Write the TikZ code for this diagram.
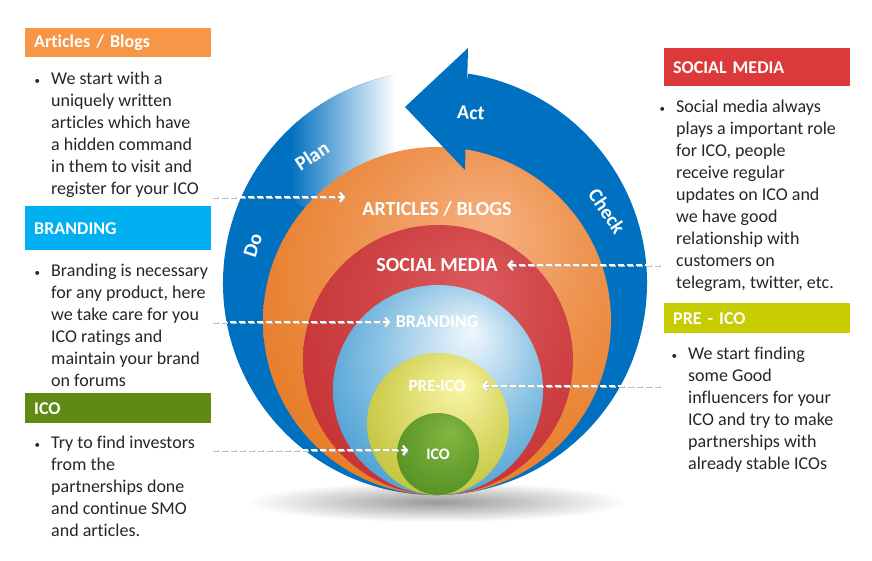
\documentclass[tikz,border=0pt]{standalone}
\usepackage{fontspec}
\setmainfont{Carlito}[Ligatures=NoCommon]
\usetikzlibrary{arrows.meta,calc,positioning}
\definecolor{ringblue}{HTML}{0070C0}
\definecolor{hdrorange}{HTML}{F79646}
\definecolor{hdrblue}{HTML}{00B0F0}
\definecolor{hdrgreen}{HTML}{5F8A14}
\definecolor{hdrred}{HTML}{DC3A3A}
\definecolor{hdryellow}{HTML}{C6CC00}
\definecolor{bodytext}{HTML}{262626}
\definecolor{orangein}{HTML}{F5B080}
\definecolor{orangeout}{HTML}{E36C0C}
\definecolor{redin}{HTML}{DC5A5C}
\definecolor{redout}{HTML}{BF282C}
\definecolor{bluein}{HTML}{F0F8FC}
\definecolor{blueout}{HTML}{1C88C9}
\definecolor{yellowin}{HTML}{FAF6A8}
\definecolor{yellowout}{HTML}{B3B61C}
\definecolor{greenin}{HTML}{84B842}
\definecolor{greenout}{HTML}{4A861E}
\colorlet{glowin}{white}
\colorlet{glowout}{black}
\pgfdeclareradialshading[glowin,glowout]{discglow}{\pgfpoint{8bp}{14bp}}{%
  color(0bp)=(glowin); color(18bp)=(glowin!55!glowout); color(42bp)=(glowout); color(50bp)=(glowout)}
\tikzset{discfill/.style 2 args={shading=discglow,
  /utils/exec={\colorlet{glowin}{#1}\colorlet{glowout}{#2}}}}
\newcommand{\bul}{\llap{{\fontsize{11}{11}\selectfont\textbullet}\hspace{11pt}}}
\begin{document}
\begin{tikzpicture}[x=1pt,y=1pt,
    hdr/.style={anchor=north west, minimum width=186pt, text width=168pt, inner xsep=9pt,
      align=left, text=white, font=\bfseries\fontsize{18}{22}\selectfont},
    body/.style={anchor=north west, inner sep=0pt, align=left, text=bodytext,
      font=\fontsize{18}{22}\selectfont},
    disclbl/.style={text=white, font=\bfseries\fontsize{#1}{#1}\selectfont},
    ringlbl/.style={text=white, font=\bfseries\fontsize{20}{20}\selectfont},
    link/.style={draw=white, line width=1.8pt, dash pattern=on 6pt off 3pt,
      -{Straight Barb[length=4pt,width=9pt]},
      preaction={draw=black!25, line width=2.2pt, dash pattern=on 6pt off 3pt,
        transform canvas={shift={(0.6pt,-1pt)}}}}]
  \useasboundingbox (0,0) rectangle (872,-560);
  \fill[white] (0,0) rectangle (872,-560);
  %ombra
  \shade[inner color=black!40, outer color=white] (437,-502) ellipse[x radius=190, y radius=20];
  %anello pdca
  \coordinate (c) at (435,-283);
  \fill[ringblue] ($(c)+(81:212)$) arc[start angle=81, end angle=-258, radius=212]
    -- ($(c)+(-258:130)$) arc[start angle=-258, end angle=81, radius=130] -- cycle;
  \begin{scope}
    \clip ($(c)+(99:212)$) arc[start angle=99, end angle=150, radius=212]
      -- ($(c)+(150:130)$) arc[start angle=150, end angle=99, radius=130] -- cycle;
    \shade[left color=ringblue, right color=white] (290,-40) rectangle (396,-230);
    \fill[white] (395,-40) rectangle (420,-230);
  \end{scope}
  %cerchi
  \shade[discfill={orangein}{orangeout}] (437,-321) circle[radius=174];
  \fill[ringblue] (405,-107) -- (468,-48) -- (465,-170) -- cycle;
  \shade[discfill={redin}{redout}] (438,-360) circle[radius=135];
  \shade[discfill={bluein}{blueout}] (438,-390) circle[radius=105];
  \shade[discfill={yellowin}{yellowout}] (438,-424) circle[radius=71];
  \shade[discfill={greenin}{greenout}] (438,-454) circle[radius=41];
  %etichette
  \node[ringlbl, rotate=72] (dolbl) at (253,-245) {Do};
  \node[ringlbl, rotate=33] (planlbl) at (312,-156) {Plan};
  \node[ringlbl, rotate=-3] (actlbl) at (471,-113) {Act};
  \node[ringlbl, rotate=-56] (checklbl) at (607,-211) {Check};
  \node[disclbl=20] (artlbl) at (437,-209) {ARTICLES / BLOGS};
  \node[disclbl=20] (smlbl) at (437,-265) {SOCIAL MEDIA};
  \node[disclbl=18] (brlbl) at (437,-322) {BRANDING};
  \node[disclbl=17] (prelbl) at (437,-386) {PRE-ICO};
  \node[disclbl=16] (icolbl) at (438,-454) {ICO};
  %testi a sinistra
  \node[hdr, fill=hdrorange, minimum height=29pt] (arthdr) at (25,-28) {Articles / Blogs};
  \node[body] (artbody) at (51,-72) {\bul We start with a\\uniquely written\\articles which have\\a hidden command\\in them to visit and\\register for your ICO};
  \node[hdr, fill=hdrblue, minimum height=44pt] (brhdr) at (25,-206) {BRANDING};
  \node[body] (brbody) at (51,-264) {\bul Branding is necessary\\for any product, here\\we take care for you\\ICO ratings and\\maintain your brand\\on forums};
  \node[hdr, fill=hdrgreen, minimum height=30pt] (icohdr) at (25,-393) {ICO};
  \node[body] (icobody) at (51,-436) {\bul Try to find investors\\from the\\partnerships done\\and continue SMO\\and articles.};
  %testi a destra
  \node[hdr, fill=hdrred, minimum height=38pt] (smhdr) at (664,-48) {SOCIAL MEDIA};
  \node[body] (smbody) at (676,-100) {\bul Social media always\\plays a important role\\for ICO, people\\receive regular\\updates on ICO and\\we have  good\\relationship  with\\customers on\\telegram, twitter, etc.};
  \node[hdr, fill=hdryellow, minimum height=30pt] (prehdr) at (664,-303) {PRE - ICO};
  \node[body] (prebody) at (688,-347) {\bul We start finding\\some Good\\influencers for your\\ICO and try to make\\partnerships with\\already stable ICOs};
  %frecce
  \coordinate (artfrom) at (212,-197);
  \coordinate (artto) at (345,-197);
  \coordinate (smfrom) at (660,-265);
  \coordinate (brfrom) at (212,-322);
  \coordinate (prefrom) at (660,-386);
  \coordinate (preto) at (482,-386);
  \coordinate (icofrom) at (212,-450);
  \coordinate (icoto) at (408,-450);
  \draw[link] (artfrom) -- (artto);
  \draw[link] (smfrom) -- ([xshift=6pt]smlbl.east);
  \draw[link] (brfrom) -- ([xshift=-2pt]brlbl.west);
  \draw[link] (prefrom) -- (preto);
  \draw[link] (icofrom) -- (icoto);
\end{tikzpicture}
\end{document}
